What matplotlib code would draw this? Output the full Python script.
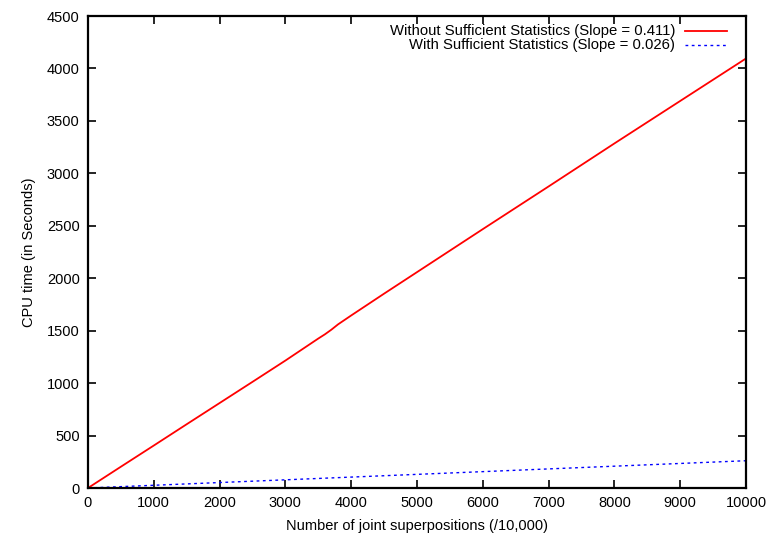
import matplotlib
matplotlib.use("Agg")
import matplotlib.pyplot as plt

plt.rcParams['font.family'] = ['Liberation Sans', 'DejaVu Sans']

# Data
x_without = [0, 500, 1000, 1500, 2000, 2500, 3000, 3500, 3600, 3700, 3800, 4000, 4500,
             5000, 6000, 7000, 8000, 9000, 10000]
y_without = [0, 203, 405, 608, 810, 1012, 1215, 1425, 1465, 1510, 1560, 1645, 1853,
             2058, 2468, 2875, 3285, 3690, 4095]
x_with = [0, 1000, 2000, 3000, 4000, 5000, 6000, 7000, 8000, 9000, 10000]
y_with = [0, 26, 52, 78, 104, 130, 156, 182, 208, 234, 260]
labels = ["Without Sufficient Statistics (Slope = 0.411)",
          "With Sufficient Statistics (Slope = 0.026)"]
xticks = list(range(0, 10001, 1000))
yticks = list(range(0, 4501, 500))

fig = plt.figure(figsize=(7.69, 5.33), dpi=100)
ax = fig.add_axes([88/769, 45/533, (746-88)/769, (488-16)/533])

ax.plot(x_without, y_without, color='red', lw=1.3)
ax.plot(x_with, y_with, color='blue', lw=1.0, linestyle=(0, (2, 2.5)))

ax.set_xlim(0, 10000)
ax.set_ylim(0, 4500)
ax.set_xticks(xticks)
ax.set_yticks(yticks)
ax.tick_params(direction='in', length=6, width=1.2, top=True, right=True,
               labelsize=10.5, pad=6, colors='black')
for s in ax.spines.values():
    s.set_linewidth(1.6)

ax.set_xlabel("Number of joint superpositions (/10,000)", fontsize=10.5, labelpad=6)
ax.set_ylabel("CPU time (in Seconds)", fontsize=10.5, labelpad=8)

# manual gnuplot-style legend
styles = [dict(color='red', lw=1.3), dict(color='blue', lw=1.0, linestyle=(0, (2, 2.5)))]
for i, (lab, st) in enumerate(zip(labels, styles)):
    yp = 1 - (30.7 - 16 + i * 14.5) / (488 - 16)
    ax.text((675 - 88) / (746 - 88), yp, lab, transform=ax.transAxes,
            ha='right', va='center', fontsize=10.7)
    ax.plot([(685 - 88) / (746 - 88), (727 - 88) / (746 - 88)], [yp, yp],
            transform=ax.transAxes, **st)

fig.savefig("out.png", dpi=100)
